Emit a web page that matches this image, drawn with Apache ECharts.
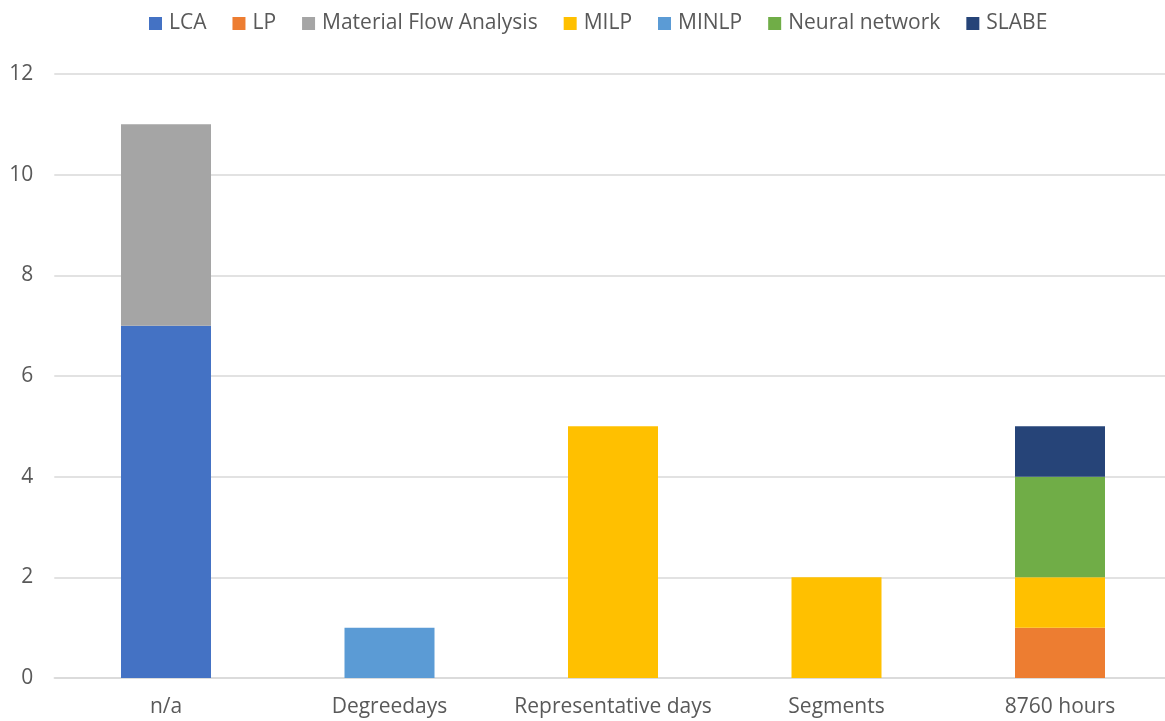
<!DOCTYPE html>
<html>
<head>
<meta charset="utf-8">
<script src="https://cdn.jsdelivr.net/npm/echarts@6/dist/echarts.min.js"></script>
<style>
  html, body { margin: 0; padding: 0; background: #fff; overflow: hidden; }
  #chart { width: 1180px; height: 721px; }
</style>
</head>
<body>
<div id="chart"></div>
<script>
// Time-resolution categories and method counts per category
const categories = ['n/a', 'Degreedays', 'Representative days', 'Segments', '8760 hours'];
const lca = [7, null, null, null, null];
const lp = [null, null, null, null, 1];
const materialFlow = [4, null, null, null, null];
const milp = [null, null, 5, 2, 1];
const minlp = [null, 1, null, null, null];
const neuralNetwork = [null, null, null, null, 2];
const slabe = [null, null, null, null, 1];
const yTicks = [0, 2, 4, 6, 8, 10, 12];

const font = '"Open Sans", Lato, sans-serif';
const textColor = '#595959';

const seriesDefs = [
  ['LCA', lca, '#4472C4'],
  ['LP', lp, '#ED7D31'],
  ['Material Flow Analysis', materialFlow, '#A5A5A5'],
  ['MILP', milp, '#FFC000'],
  ['MINLP', minlp, '#5B9BD5'],
  ['Neural network', neuralNetwork, '#70AD47'],
  ['SLABE', slabe, '#264478']
];

const chart = echarts.init(document.getElementById('chart'), null, { renderer: 'canvas' });
chart.setOption({
  animation: false,
  backgroundColor: '#fff',
  legend: {
    top: 13,
    left: 149,
    padding: 0,
    itemWidth: 13,
    itemHeight: 13,
    itemGap: 26,
    icon: 'rect',
    textStyle: { fontFamily: font, fontSize: 21, color: textColor, padding: [0, 0, 0, 2] },
    data: seriesDefs.map(s => s[0])
  },
  grid: { left: 54.25, top: 74, width: 1117.5, height: 604, containLabel: false },
  xAxis: {
    type: 'category',
    data: categories,
    axisTick: { show: false },
    axisLine: { show: true, lineStyle: { color: '#D9D9D9', width: 1.5 } },
    axisLabel: { fontFamily: font, fontSize: 21, color: textColor, margin: 19, interval: 0 }
  },
  yAxis: {
    type: 'value',
    min: yTicks[0],
    max: yTicks[yTicks.length - 1],
    interval: yTicks[1] - yTicks[0],
    axisLine: { show: false },
    axisTick: { show: false },
    splitLine: { lineStyle: { color: '#D9D9D9', width: 1.5 } },
    axisLabel: { fontFamily: font, fontSize: 21, color: textColor, margin: 21 }
  },
  series: seriesDefs.map(([name, data, color]) => ({
    name,
    type: 'bar',
    stack: 'total',
    data,
    barWidth: 90,
    itemStyle: { color }
  }))
});
</script>
</body>
</html>
